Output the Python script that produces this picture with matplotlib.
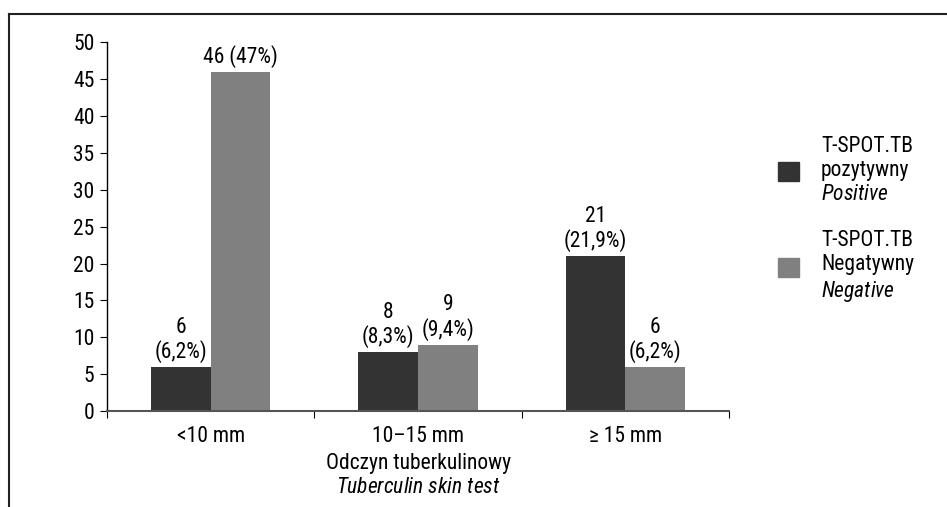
import matplotlib.pyplot as plt
import numpy as np
from matplotlib import font_manager
from matplotlib.lines import Line2D
from matplotlib.patches import Patch

# prefer a narrow sans face if one is installed
installed = {(f.name, f.stretch) for f in font_manager.fontManager.ttflist}
names = {n for n, s in installed}
narrow = None
for cand in ['Liberation Sans Narrow', 'Roboto Condensed', 'Open Sans Condensed',
             'DejaVu Sans Condensed', 'Noto Sans Condensed']:
    if cand in names:
        narrow = cand
        break
stretch = 'normal'
if narrow is None and ('DejaVu Sans', 'condensed') in installed:
    narrow, stretch = 'DejaVu Sans', 'condensed'
if narrow is None:
    narrow = 'Roboto'

plt.rcParams['font.family'] = [narrow, 'DejaVu Sans']
plt.rcParams['font.stretch'] = stretch
plt.rcParams['mathtext.fontset'] = 'custom'
plt.rcParams['mathtext.it'] = narrow + ':italic'
plt.rcParams['mathtext.rm'] = narrow

categories = ['<10 mm', '10–15 mm', '≥ 15 mm']
positive = [6, 8, 21]
negative = [46, 9, 6]
positive_labels = ['6\n(6,2%)', '8\n(8,3%)', '21\n(21,9%)']
negative_labels = ['46 (47%)', '9\n(9,4%)', '6\n(6,2%)']

dark = '#333333'
light = '#808080'
fs = 15.5

fig = plt.figure(figsize=(9.47, 5.07), dpi=100)
ax = fig.add_axes([0.113, 0.189, 0.657, 0.728])

x = np.arange(len(categories))
w = 0.288
b1 = ax.bar(x - w / 2, positive, w, color=dark)
b2 = ax.bar(x + w / 2, negative, w, color=light)

for bars, texts in [(b1, positive_labels), (b2, negative_labels)]:
    for rect, lab in zip(bars, texts):
        ax.text(rect.get_x() + rect.get_width() / 2, rect.get_height() + 0.5, lab,
                ha='center', va='bottom', fontsize=fs, linespacing=1.15)

ax.set_xlim(-0.5, 2.5)
ax.set_ylim(0, 50)
ax.set_yticks(range(0, 51, 5))
ax.set_xticks([-0.5, 0.5, 1.5, 2.5])
ax.set_xticklabels([])
ax.set_xticks(x, minor=True)
ax.set_xticklabels(categories, minor=True)
ax.tick_params(axis='x', which='minor', length=0, pad=11, labelsize=fs)
ax.tick_params(axis='x', which='major', length=5, direction='out')
ax.tick_params(axis='y', length=5, labelsize=fs, pad=4)
ax.spines['top'].set_visible(False)
ax.spines['right'].set_visible(False)
ax.spines['bottom'].set_color('#555555')
ax.spines['bottom'].set_linewidth(1.5)
ax.spines['left'].set_linewidth(1.0)

ax.set_xlabel('Odczyn tuberkulinowy\n$\\it{Tuberculin\\ skin\\ test}$',
              fontsize=fs, labelpad=4, linespacing=1.2)

handles = [Patch(color=dark), Patch(color=light)]
labels = ['T-SPOT.TB\npozytywny\n$\\it{Positive}$',
          'T-SPOT.TB\nNegatywny\n$\\it{Negative}$']
fig.legend(handles, labels, loc='center left', bbox_to_anchor=(0.801, 0.566),
           frameon=False, fontsize=fs, handlelength=1.0, handleheight=1.0,
           labelspacing=1.15, handletextpad=1.0)

# frame lines on top and left
fig.add_artist(Line2D([0.0095, 1.0], [0.972, 0.972], color='#222222', lw=1.5,
                      transform=fig.transFigure))
fig.add_artist(Line2D([0.0095, 0.0095], [0.0, 0.972], color='#222222', lw=1.5,
                      transform=fig.transFigure))

fig.savefig('out.png', dpi=100)
